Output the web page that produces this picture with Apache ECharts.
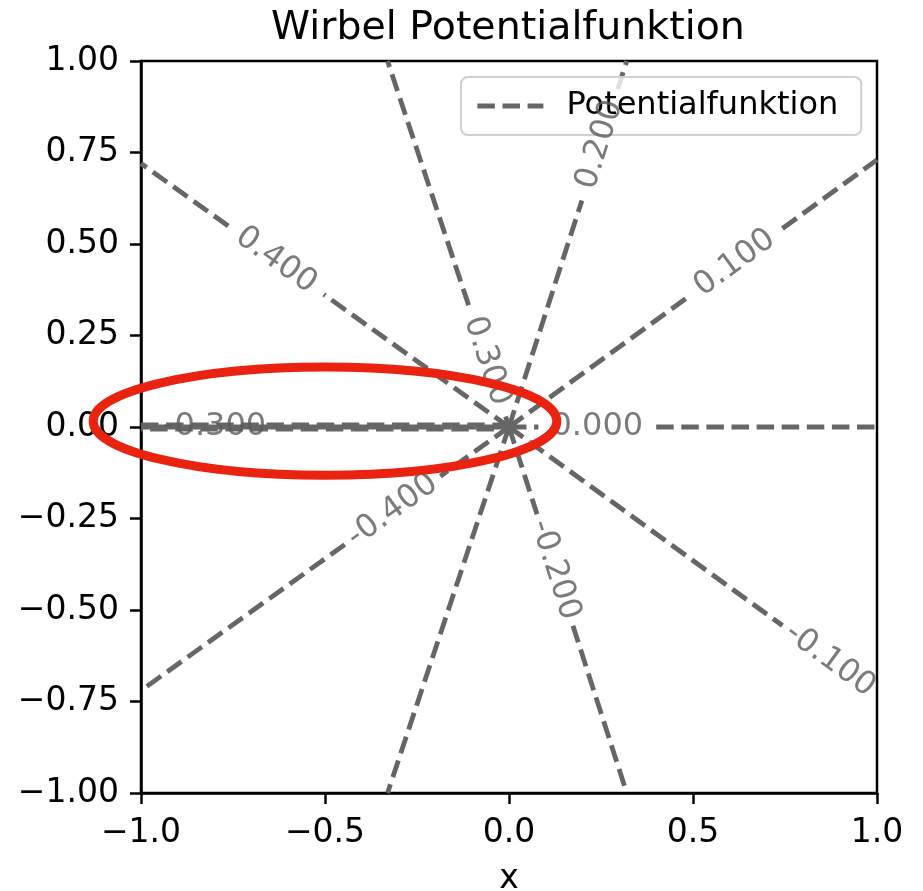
<!DOCTYPE html>
<html>
<head>
<meta charset="utf-8">
<script src="https://cdn.jsdelivr.net/npm/echarts@6/dist/echarts.min.js"></script>
<style>
    html, body { margin: 0; padding: 0; background: #fff; }
    #chart1 { width: 923px; height: 891px; }
</style>
</head>
<body>
<div id="chart1"></div>
<script>
// Konturen der Wirbel-Potentialfunktion: Strahlen vom Ursprung bis zum Rand
var levelLabels = ['0.400', '0.300', '0.200', '0.100', '0.000', '-0.100', '-0.200', '-0.300', '-0.400']
var rayEndX = [-1.0, -0.33, 0.32, 1.0, 1.0, 1.0, 0.32, -0.33, -1.0]
var rayEndY = [0.72, 1.0, 1.0, 0.73, 0.0, -0.73, -1.0, -1.0, -0.72]
// Abstand des Labels vom Ursprung (null = ohne Label)
var labelR = [0.78, 0.19, 0.81, 0.76, 0.24, 1.08, 0.41, null, 0.39]

// Sprungstelle auf der negativen x-Achse (viele Niveaus übereinander)
var cutX = [-1.0, 0.0]
var cutY = [0.006, 0.0, -0.006]
var cutLabel = '-0.300'
var cutLabelX = -0.80

// rote Markierung: Mittelpunkt x, y und Halbachsen
var markEllipse = [-0.5, 0.016, 0.63, 0.148]

var xTicks = [-1.0, -0.5, 0.0, 0.5, 1.0]
var yTicks = [-1.0, -0.75, -0.5, -0.25, 0.0, 0.25, 0.5, 0.75, 1.0]

$init()

function $init () {
    var myChart = echarts.init(document.getElementById('chart1'))
    var gray = '#666666'
    var dash = [17.5, 7.6]
    var gapHalf = 0.16
    var series = []

    function addSeg (p0, p1, offset) {
        series.push({
            name: 'Potentialfunktion',
            type: 'line',
            data: [p0, p1],
            symbol: 'none',
            silent: true,
            z: 2,
            itemStyle: { color: gray },
            lineStyle: { color: gray, width: 4.8, type: dash, dashOffset: offset || 0 }
        })
    }

    var labelData = []
    for (var i = 0; i < levelLabels.length; i++) {
        var ex = rayEndX[i], ey = rayEndY[i]
        var len = Math.sqrt(ex * ex + ey * ey)
        var ux = ex / len, uy = ey / len
        var r = labelR[i]
        if (r == null) {
            addSeg([0, 0], [ex, ey])
            continue
        }
        var a = Math.max(r - gapHalf, 0)
        var b = r + gapHalf
        addSeg([0, 0], [ux * a, uy * a])
        if (b < len) addSeg([ux * b, uy * b], [ex, ey])
        var ang = Math.atan2(uy, ux) * 180 / Math.PI
        if (ang > 90) ang -= 180
        if (ang < -90) ang += 180
        labelData.push({ value: [ux * r, uy * r], name: levelLabels[i], label: { rotate: ang } })
    }
    // Sprungstelle
    for (var k = 0; k < cutY.length; k++) {
        addSeg([cutX[0], cutY[k]], [cutX[1], cutY[k]], k * 8)
    }
    labelData.push({ value: [cutLabelX, 0], name: cutLabel, label: { rotate: 0 } })

    series.push({
        type: 'scatter',
        data: labelData,
        symbol: 'circle',
        symbolSize: 1,
        silent: true,
        z: 5,
        itemStyle: { color: 'rgba(0,0,0,0)' },
        label: {
            show: true,
            position: 'inside',
            formatter: '{b}',
            color: '#5a5a5a',
            fontSize: 32,
            fontFamily: 'DejaVu Sans'
        }
    })

    series.push({
        type: 'custom',
        data: [markEllipse],
        clip: false,
        silent: true,
        z: 10,
        renderItem: function (params, api) {
            var c = api.coord([api.value(0), api.value(1)])
            var s = api.size([api.value(2), api.value(3)])
            var rx = s[0], ry = s[1]
            var d = 'M ' + (c[0] - rx) + ' ' + c[1] +
                ' A ' + rx + ' ' + ry + ' 0 1 0 ' + (c[0] + rx) + ' ' + c[1] +
                ' A ' + rx + ' ' + ry + ' 0 1 0 ' + (c[0] - rx) + ' ' + c[1] + ' Z'
            return {
                type: 'path',
                shape: { pathData: d },
                style: { fill: 'none', stroke: '#ea2210', lineWidth: 9 }
            }
        }
    })

    function minus (s) { return s.replace('-', '\u2212') }

    var option = {
        animation: false,
        backgroundColor: '#ffffff',
        textStyle: { fontFamily: 'DejaVu Sans' },
        title: {
            text: 'Wirbel Potentialfunktion',
            left: 271,
            top: 9,
            padding: 0,
            textStyle: { fontSize: 39.5, fontWeight: 'normal', color: '#000', fontFamily: 'DejaVu Sans' }
        },
        legend: {
            data: ['Potentialfunktion'],
            left: 461,
            top: 77,
            padding: [13, 23, 13, 14],
            itemWidth: 66,
            itemHeight: 14,
            itemStyle: { opacity: 0 },
            lineStyle: { color: gray, width: 4.8, type: dash },
            backgroundColor: 'rgba(255,255,255,0.8)',
            borderColor: '#d0d0d0',
            borderWidth: 2,
            borderRadius: 7,
            textStyle: { fontSize: 32, color: '#000', fontFamily: 'DejaVu Sans', padding: [0, 0, 0, 18] }
        },
        grid: {
            left: 141,
            top: 61,
            width: 736,
            height: 732,
            outerBoundsMode: 'none',
            containLabel: false,
            show: true,
            borderColor: '#000',
            borderWidth: 2.5,
            backgroundColor: 'transparent'
        },
        xAxis: {
            type: 'value',
            min: xTicks[0],
            max: xTicks[xTicks.length - 1],
            interval: 0.5,
            name: 'x',
            nameLocation: 'middle',
            nameGap: 70,
            nameTextStyle: { fontSize: 33, color: '#000', fontFamily: 'DejaVu Sans' },
            splitLine: { show: false },
            axisLine: { show: true, onZero: false, lineStyle: { color: '#000', width: 2.5 } },
            axisTick: { show: true, length: 11, lineStyle: { color: '#000', width: 2.5 } },
            axisLabel: {
                fontSize: 33,
                color: '#000',
                margin: 24,
                formatter: function (v) { return minus(v.toFixed(1)) }
            }
        },
        yAxis: {
            type: 'value',
            min: yTicks[0],
            max: yTicks[yTicks.length - 1],
            interval: 0.25,
            splitLine: { show: false },
            axisLine: { show: true, onZero: false, lineStyle: { color: '#000', width: 2.5 } },
            axisTick: { show: true, length: 11, lineStyle: { color: '#000', width: 2.5 } },
            axisLabel: {
                fontSize: 33,
                color: '#000',
                margin: 22,
                formatter: function (v) { return minus(v.toFixed(2)) }
            }
        },
        series: series
    }
    myChart.setOption(option)
}
</script>
</body>
</html>
